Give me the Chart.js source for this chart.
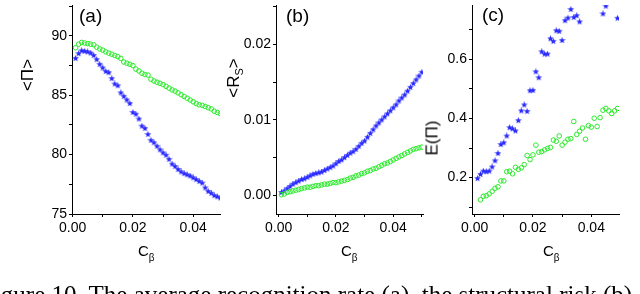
<!DOCTYPE html>
<html>
<head>
<meta charset="utf-8">
<script src="https://cdn.jsdelivr.net/npm/chart.js@4.4.0/dist/chart.umd.min.js"></script>
<style>
  body { margin: 0; background: #fff; width: 640px; height: 294px; overflow: hidden; position: relative; font-family: "Liberation Sans", Arial, sans-serif; }
  canvas { position: absolute; left: 0; top: 0; }
  .lbl { position: absolute; color: #000; white-space: nowrap; line-height: 1; }
  .panel { font-size: 19px; }
  .ytitle { font-size: 17px; transform: translate(-50%, -50%) rotate(-90deg); }
  .xtitle { font-size: 15px; }
  .xtitle sub { font-size: 10px; vertical-align: -5px; }
  .ytitle sub { font-size: 11px; vertical-align: -4px; }
  .caption { font-family: "Liberation Serif", "Times New Roman", serif; font-size: 25px; line-height: 25px; }
</style>
</head>
<body>
<canvas id="chartA" width="640" height="294"></canvas>
<canvas id="chartB" width="640" height="294"></canvas>
<canvas id="chartC" width="640" height="294"></canvas>

<div class="lbl panel" style="left:79px;top:6px">(a)</div>
<div class="lbl panel" style="left:286px;top:6px">(b)</div>
<div class="lbl panel" style="left:482px;top:5px">(c)</div>

<div class="lbl ytitle" style="left:27px;top:75px">&lt;Π&gt;</div>
<div class="lbl ytitle" style="left:235px;top:78px">&lt;R<sub>S</sub>&gt;</div>
<div class="lbl ytitle" style="left:432px;top:138px">E(Π)</div>

<div class="lbl xtitle" style="left:138px;top:243px">C<sub>β</sub></div>
<div class="lbl xtitle" style="left:341px;top:243px">C<sub>β</sub></div>
<div class="lbl xtitle" style="left:543px;top:243px">C<sub>β</sub></div>

<div class="lbl caption" style="left:-20px;top:282px">Figure 10. The average recognition rate (a), the structural risk (b) and the error</div>

<script>
// c_beta values shared by the panels
const cBeta = [0.001, 0.002, 0.003, 0.004, 0.005, 0.006, 0.007, 0.008, 0.009, 0.010,
               0.011, 0.012, 0.013, 0.014, 0.015, 0.016, 0.017, 0.018, 0.019, 0.020,
               0.021, 0.022, 0.023, 0.024, 0.025, 0.026, 0.027, 0.028, 0.029, 0.030,
               0.031, 0.032, 0.033, 0.034, 0.035, 0.036, 0.037, 0.038, 0.039, 0.040,
               0.041, 0.042, 0.043, 0.044, 0.045, 0.046, 0.047, 0.048, 0.049, 0.050];

// (a) <Pi>
const piGreen = [89.0, 89.3, 89.45, 89.4, 89.35, 89.3, 89.25, 89.05, 88.9, 88.8,
                 88.65, 88.55, 88.45, 88.35, 88.25, 88.1, 87.8, 87.7, 87.6, 87.5,
                 87.2, 87.05, 86.85, 86.75, 86.7, 86.35, 86.2, 86.1, 86.0, 85.9,
                 85.75, 85.6, 85.45, 85.35, 85.2, 85.05, 84.9, 84.75, 84.6, 84.45,
                 84.3, 84.2, 84.15, 84.05, 83.95, 83.85, 83.65, 83.55, 83.45];
const piBlue = [88.1, 88.5, 88.75, 88.7, 88.65, 88.55, 88.35, 88.0, 87.6, 87.3,
                87.0, 86.9, 86.4, 85.95, 85.8, 85.2, 84.9, 84.6, 84.3, 83.55,
                83.4, 83.0, 82.4, 82.2, 81.7, 81.2, 81.0, 80.7, 80.4, 80.15,
                79.95, 79.6, 79.2, 79.0, 78.75, 78.55, 78.4, 78.3, 78.2, 78.05,
                77.9, 77.75, 77.6, 77.2, 76.9, 76.75, 76.55, 76.45, 76.35];

// (b) <R_S>
const rsBlue = [0.0004, 0.0006, 0.0009, 0.0012, 0.0015, 0.0017, 0.0019, 0.0021, 0.0022, 0.0024,
                0.0026, 0.0028, 0.0029, 0.0030, 0.0031, 0.0033, 0.0035, 0.0037, 0.0039, 0.0042,
                0.0045, 0.0047, 0.0050, 0.0053, 0.0056, 0.0058, 0.0061, 0.0065, 0.0069, 0.0072,
                0.0077, 0.0082, 0.0087, 0.0092, 0.0096, 0.0100, 0.0104, 0.0108, 0.0112, 0.0116,
                0.0120, 0.0125, 0.0129, 0.0133, 0.0138, 0.0143, 0.0148, 0.0153, 0.0158, 0.0163];
const rsGreen = [0.0001, 0.0002, 0.0004, 0.0005, 0.0006, 0.0007, 0.0008, 0.0009, 0.0010, 0.0011,
                 0.0011, 0.0012, 0.0013, 0.0013, 0.0014, 0.0015, 0.0015, 0.0016, 0.0017, 0.0017,
                 0.0018, 0.0019, 0.0020, 0.0021, 0.0023, 0.0024, 0.0026, 0.0027, 0.0029, 0.0030,
                 0.0032, 0.0033, 0.0035, 0.0036, 0.0038, 0.0040, 0.0042, 0.0043, 0.0045, 0.0047,
                 0.0049, 0.0051, 0.0053, 0.0055, 0.0057, 0.0059, 0.0061, 0.0062, 0.0063, 0.0064];

// (c) E(Pi) -- blue points above the top of the axis are not visible (null)
const ePiBlue = [0.197, 0.211, 0.222, 0.220, 0.222, 0.236, 0.257, 0.282, 0.312, 0.318,
                 0.341, 0.369, 0.365, 0.358, 0.393, 0.426, 0.446, 0.424, 0.494, 0.495,
                 0.558, 0.538, 0.626, 0.618, 0.618, 0.670, 0.661, 0.697, 0.695, 0.664,
                 0.731, 0.740, 0.769, 0.742, 0.748, 0.727, null, null, null, null,
                 null, null, null, 0.754, 0.780, null, null, null, 0.739];
// green starts at c_beta = 0.002
const ePiGreen = [0.125, 0.137, 0.139, 0.145, 0.154, 0.164, 0.169, 0.189, 0.189, 0.220,
                  0.222, 0.213, 0.235, 0.228, 0.233, 0.244, 0.275, 0.261, 0.277, 0.310,
                  0.286, 0.288, 0.294, 0.299, 0.302, 0.327, 0.323, 0.341, 0.310, 0.320,
                  0.330, 0.332, 0.390, 0.346, 0.357, 0.368, 0.330, 0.376, 0.371, 0.401,
                  0.373, 0.403, 0.428, 0.434, 0.426, 0.417, 0.426, 0.434];

const xTicks = ['0.00', '0.02', '0.04'];
const FONT = 'Liberation Sans, Arial, sans-serif';
const GREEN = '#2bea2b';
const BLUE = '#2a2aff';

function pts(xs, ys, offset) {
  const out = [];
  ys.forEach((y, i) => { if (y !== null) out.push({ x: xs[i + offset], y: y }); });
  return out;
}

// small filled star for the blue series
const star = document.createElement('canvas');
star.width = 7; star.height = 7;
(function () {
  const g = star.getContext('2d');
  g.fillStyle = BLUE;
  g.beginPath();
  for (let k = 0; k < 10; k++) {
    const r = k % 2 ? 1.5 : 3.5;
    const a = -Math.PI / 2 + k * Math.PI / 5;
    g.lineTo(3.5 + r * Math.cos(a), 3.5 + r * Math.sin(a));
  }
  g.closePath();
  g.fill();
})();

function isMultiple(v, step) {
  const q = v / step;
  return Math.abs(q - Math.round(q)) < 1e-6;
}

function makePanel(id, cfg) {
  new Chart(document.getElementById(id), {
    type: 'scatter',
    data: {
      datasets: [
        { data: cfg.green, pointStyle: 'circle', pointRadius: 2.3, borderWidth: 1,
          borderColor: GREEN, backgroundColor: 'rgba(0,0,0,0)' },
        { data: cfg.blue, pointStyle: star, pointRadius: 3.5, borderWidth: 0 }
      ]
    },
    options: {
      responsive: false,
      animation: false,
      layout: { padding: cfg.padding },
      plugins: { legend: { display: false }, tooltip: { enabled: false } },
      scales: {
        x: {
          type: 'linear', min: cfg.xMin, max: cfg.xMax,
          border: { display: true, color: '#000', width: 1 },
          grid: { drawOnChartArea: false, drawTicks: true, tickLength: 3, color: '#000' },
          ticks: {
            stepSize: 0.01, includeBounds: false, autoSkip: false, maxRotation: 0,
            padding: 3, color: '#000', font: { family: FONT, size: 14 },
            callback: v => isMultiple(v, 0.02) ? xTicks[Math.round(v / 0.02)] : ''
          },
          afterFit: s => { s.height = 30; s.paddingLeft = 0; s.paddingRight = 0; }
        },
        y: {
          type: 'linear', min: cfg.yMin, max: cfg.yMax,
          border: { display: true, color: '#000', width: 1 },
          grid: { drawOnChartArea: false, drawTicks: true, tickLength: 3, color: '#000' },
          ticks: {
            stepSize: cfg.yStep, includeBounds: false, autoSkip: false,
            padding: 2, color: '#000', font: { family: FONT, size: 14 },
            callback: cfg.yLabel
          },
          afterFit: s => { s.width = 40; s.paddingTop = 0; s.paddingBottom = 0; }
        }
      }
    }
  });
}

makePanel('chartA', {
  green: pts(cBeta, piGreen, 0), blue: pts(cBeta, piBlue, 0),
  xMin: -0.0002, xMax: 0.0489, yMin: 75, yMax: 92.6, yStep: 2.5,
  yLabel: v => isMultiple(v, 5) ? String(v) : '',
  padding: { left: 32, right: 420, top: 0, bottom: 50 }
});

makePanel('chartB', {
  green: pts(cBeta, rsGreen, 0), blue: pts(cBeta, rsBlue, 0),
  xMin: -0.0009, xMax: 0.0504, yMin: -0.00245, yMax: 0.0252, yStep: 0.005,
  yLabel: v => isMultiple(v, 0.01) ? v.toFixed(2) : '',
  padding: { left: 236, right: 217, top: 0, bottom: 50 }
});

makePanel('chartC', {
  green: pts(cBeta, ePiGreen, 1), blue: pts(cBeta, ePiBlue, 0),
  xMin: -0.0009, xMax: 0.0495, yMin: 0.077, yMax: 0.784, yStep: 0.1,
  yLabel: v => isMultiple(v, 0.2) ? v.toFixed(1) : '',
  padding: { left: 432, right: 21, top: 0, bottom: 50 }
});
</script>
</body>
</html>
